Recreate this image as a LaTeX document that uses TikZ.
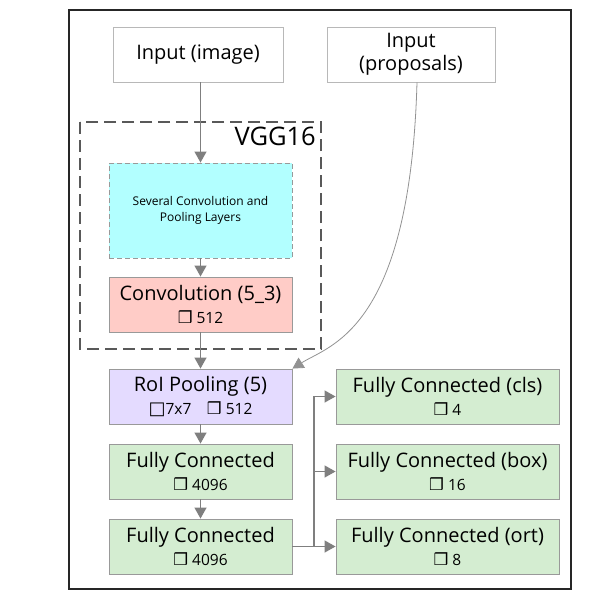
\documentclass[tikz,border=0pt]{standalone}
\usepackage{fontspec}
\setmainfont{Open Sans}
\newfontfamily\symfont{DejaVu Sans}
\usetikzlibrary{arrows.meta,positioning}

\definecolor{edgegray}{HTML}{999999}
\definecolor{arrowgray}{HTML}{7F7F7F}
\definecolor{cyanfill}{HTML}{B2FFFF}
\definecolor{pinkfill}{HTML}{FFCCC7}
\definecolor{lilacfill}{HTML}{E4DBFF}
\definecolor{greenfill}{HTML}{D4EDD1}

\newcommand{\chan}{{\symfont\fontsize{16.5}{16}\selectfont\char"2752}}
\newcommand{\sizebox}{{\symfont\fontsize{18}{16}\selectfont\char"25A1}}
\newcommand{\subline}{\fontsize{15.5}{18}\selectfont}

\tikzset{
  layer/.style={draw=edgegray, line width=0.9pt, align=center,
    minimum width=183pt, minimum height=55pt, inner sep=0pt,
    font=\fontsize{20}{24}\selectfont},
  inbox/.style={layer, fill=white, draw=edgegray!70, minimum width=170pt},
  head/.style={layer, minimum width=223pt, fill=greenfill},
  flow/.style={draw=arrowgray, line width=1.3pt,
    -{Triangle[width=12pt,length=11pt]}},
}

\begin{document}
\begin{tikzpicture}[x=1pt,y=-1pt]
  \useasboundingbox (0,0) rectangle (592,600);
  \draw[line width=1.5pt, draw=black!85] (69,10) rectangle (571,589);

  % inputs
  \node[inbox] (img) at (198,54.5) {Input (image)};
  \node[inbox, minimum width=168pt] (prop) at (411,54.5)
    {Input\\[-1pt](proposals)};

  % VGG16 block
  \draw[dashed, dash pattern=on 12pt off 6pt, line width=1.3pt, draw=black!65]
    (80,122) rectangle (321,349);
  \node[anchor=north east, inner sep=0pt,
    font=\fontsize{25.5}{28}\selectfont] (vgg) at (316,127) {VGG16};
  \node[layer, dash pattern=on 5pt off 3pt, fill=cyanfill, minimum height=95pt,
    font=\fontsize{12}{16}\selectfont] (convs) at (200.5,210.5)
    {Several Convolution and\\Pooling Layers};
  \node[layer, fill=pinkfill] (conv53) at (200.5,304.5)
    {Convolution (5\_3)\\[-1pt]{\subline\chan\ 512}};

  % shared trunk
  \node[layer, fill=lilacfill] (roi) at (200.5,396.5)
    {RoI Pooling (5)\\[-1pt]{\subline\sizebox 7x7\quad\chan\ 512}};
  \node[layer, fill=greenfill] (fc1) at (200.5,471.5)
    {Fully Connected\\[-1pt]{\subline\chan\ 4096}};
  \node[layer, fill=greenfill] (fc2) at (200.5,546.5)
    {Fully Connected\\[-1pt]{\subline\chan\ 4096}};

  % heads
  \node[head] (cls) at (447.5,396.5)
    {Fully Connected (cls)\\[-1pt]{\subline\chan\ 4}};
  \node[head] (box) at (447.5,471.5)
    {Fully Connected (box)\\[-1pt]{\subline\chan\ 16}};
  \node[head] (ort) at (447.5,546.5)
    {Fully Connected (ort)\\[-1pt]{\subline\chan\ 8}};

  % connectors
  \draw[flow] (img.south -| convs.north) -- (convs.north);
  \draw[flow] (convs) -- (conv53);
  \draw[flow] (conv53) -- (roi);
  \draw[flow] (roi) -- (fc1);
  \draw[flow] (fc1) -- (fc2);
  \draw[flow, line width=0.8pt, draw=arrowgray!85] ([xshift=6pt]prop.south)
    .. controls (410,330) and (330,345) .. (roi.north east);
  \coordinate (split) at (314,546.5);
  \draw[flow] (fc2.east) -- (ort.west);
  \draw[flow] (split) |- (box.west);
  \draw[flow] (split) |- (cls.west);
\end{tikzpicture}
\end{document}
